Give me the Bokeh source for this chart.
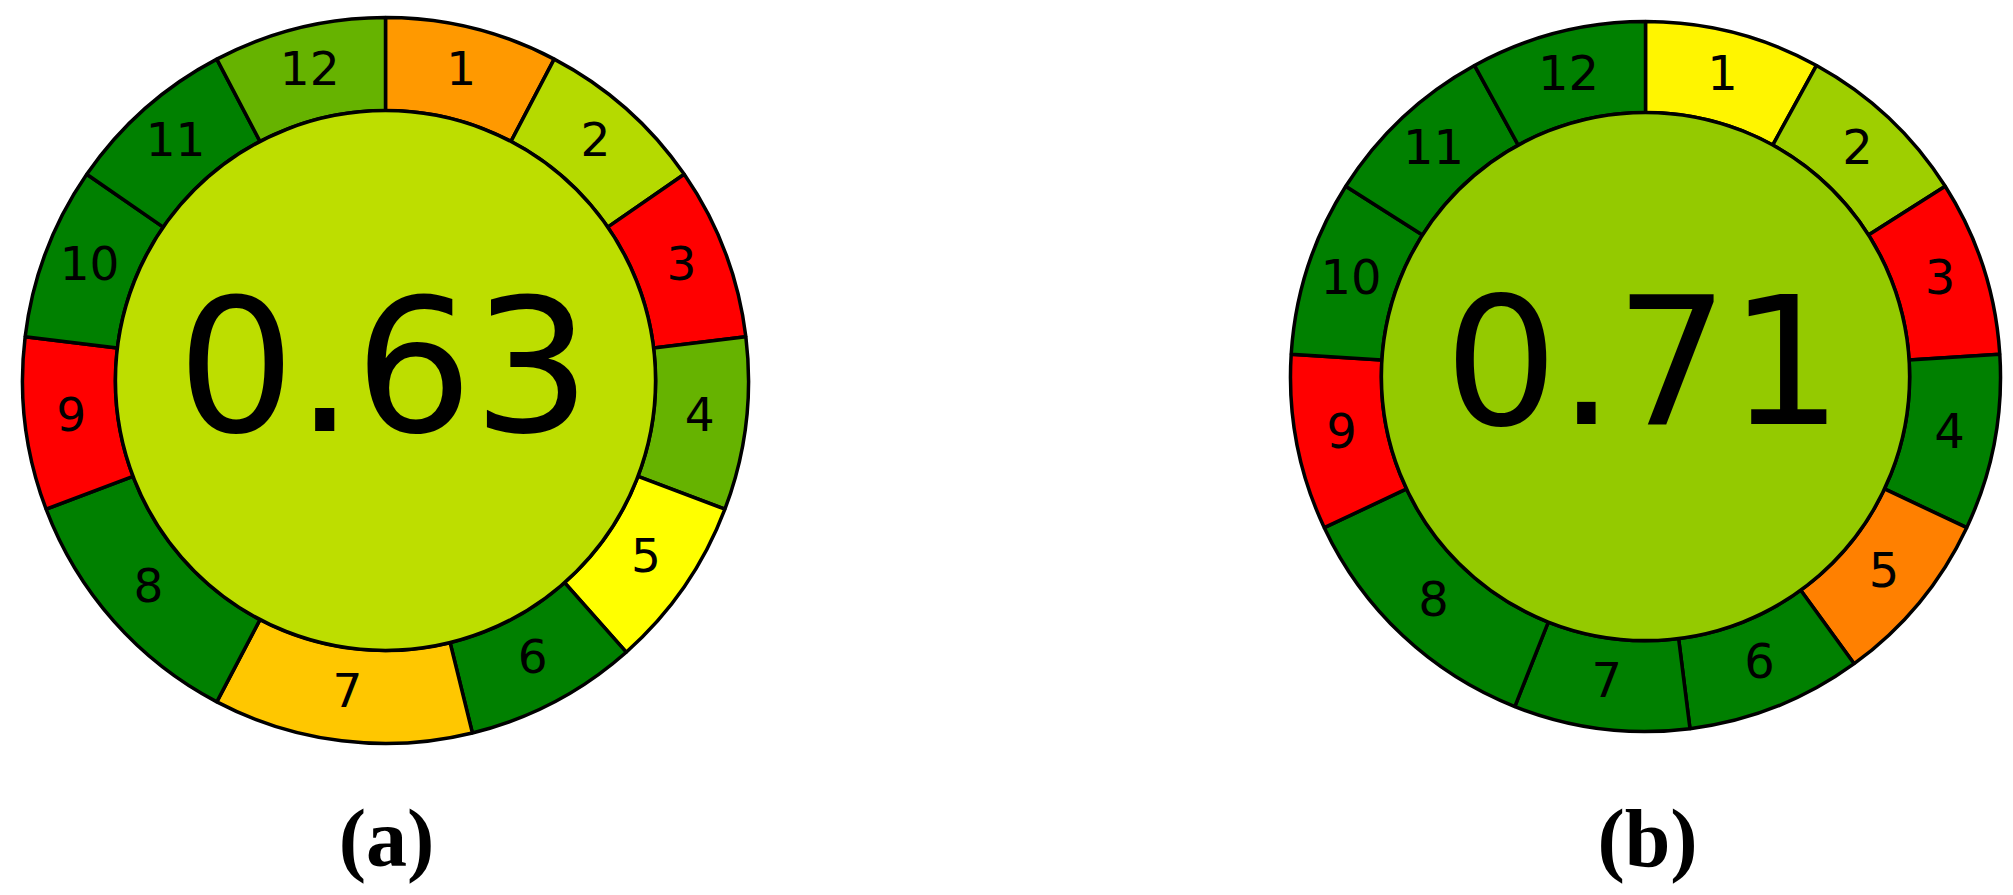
import math
from bokeh.plotting import figure
from bokeh.models import Range1d, ColumnDataSource
from bokeh.core.properties import value
from bokeh.embed import file_html
from bokeh.resources import INLINE

# ---------------- data ----------------
criteria = ["1", "2", "3", "4", "5", "6", "7", "8", "9", "10", "11", "12"]

weights_a = [2, 2, 2, 2, 2, 2, 3, 3, 2, 2, 2, 2]
scores_a = [0.30, 0.645, 0.0, 0.80, 0.50, 1.0, 0.39, 1.0, 0.0, 1.0, 1.0, 0.80]
total_a = 0.63

weights_b = [2, 2, 2, 2, 2, 2, 2, 3, 2, 2, 2, 2]
scores_b = [0.48, 0.69, 0.0, 1.0, 0.25, 1.0, 1.0, 1.0, 0.0, 1.0, 1.0, 1.0]
total_b = 0.71

panel_labels = ["(a)", "(b)"]

# ---------------- helpers ----------------
def score_color(s):
    # red -> yellow -> green colour scale
    if s <= 0.5:
        t = s / 0.5
        r, g = 255, 255 * t
    else:
        t = (s - 0.5) / 0.5
        r, g = 255 * (1 - t), 255 + (128 - 255) * t
    return "#%02x%02x%02x" % (int(round(r)), int(round(g)), 0)

PAGE_H = 895
W, H = 2005, 887

p = figure(width=W, height=H, output_backend="svg", toolbar_location=None,
           x_range=Range1d(0, W), y_range=Range1d(PAGE_H - H, PAGE_H),
           x_axis_type=None, y_axis_type=None, min_border=0)
p.outline_line_color = None
p.grid.visible = False
p.background_fill_color = "white"
p.border_fill_color = "white"

LW = 3.5

def draw_pictogram(cx, cy_screen, R, weights, scores, total, seg_fs, big_fs,
                   big_x, big_y_screen, lab_shift):
    cy = PAGE_H - cy_screen
    r_in = R * 0.744
    tot_w = sum(weights)
    bounds = [0.0]
    for w in weights:
        bounds.append(bounds[-1] + w * 360.0 / tot_w)
    starts, ends, colors, lx, ly = [], [], [], [], []
    for i in range(len(weights)):
        t0, t1 = bounds[i], bounds[i + 1]
        starts.append(math.radians(90 - t0))
        ends.append(math.radians(90 - t1))
        colors.append(score_color(scores[i]))
        tm = math.radians((t0 + t1) / 2)
        rm = (R + r_in) / 2
        lx.append(cx + rm * math.sin(tm))
        ly.append(cy + rm * math.cos(tm) + lab_shift)
    src = ColumnDataSource(dict(x=[cx] * len(weights), y=[cy] * len(weights),
                                start=starts, end=ends, color=colors,
                                lx=lx, ly=ly, lab=criteria))
    p.annular_wedge(x="x", y="y", inner_radius=r_in, outer_radius=R,
                    start_angle="start", end_angle="end", direction="clock",
                    fill_color="color", line_color="black", line_width=LW,
                    source=src)
    p.circle(x=[cx], y=[cy], radius=r_in, fill_color=score_color(total),
             line_color="black", line_width=LW)
    p.text(x="lx", y="ly", text="lab", source=src,
           text_font=value("DejaVu Sans"), text_font_size=value(f"{seg_fs}px"),
           text_align="center", text_baseline="middle", text_color="black")
    p.text(x=[big_x], y=[PAGE_H - big_y_screen], text=[f"{total:.2f}"],
           text_font=value("DejaVu Sans"), text_font_size=value(f"{big_fs}px"),
           text_align="center", text_baseline="middle", text_color="black")

draw_pictogram(385, 380, 363, weights_a, scores_a, total_a, 47, 186, 383.5, 362, 5)
draw_pictogram(1645, 376, 355, weights_b, scores_b, total_b, 48, 179, 1643, 358, 4)

p.text(x=[386, 1647], y=[PAGE_H - 838] * 2, text=panel_labels,
       text_font=value("Liberation Serif"), text_font_size=value("82px"),
       text_font_style="bold", text_align="center", text_baseline="middle",
       text_color="black")

open("out.html", "w").write(file_html(p, INLINE))
